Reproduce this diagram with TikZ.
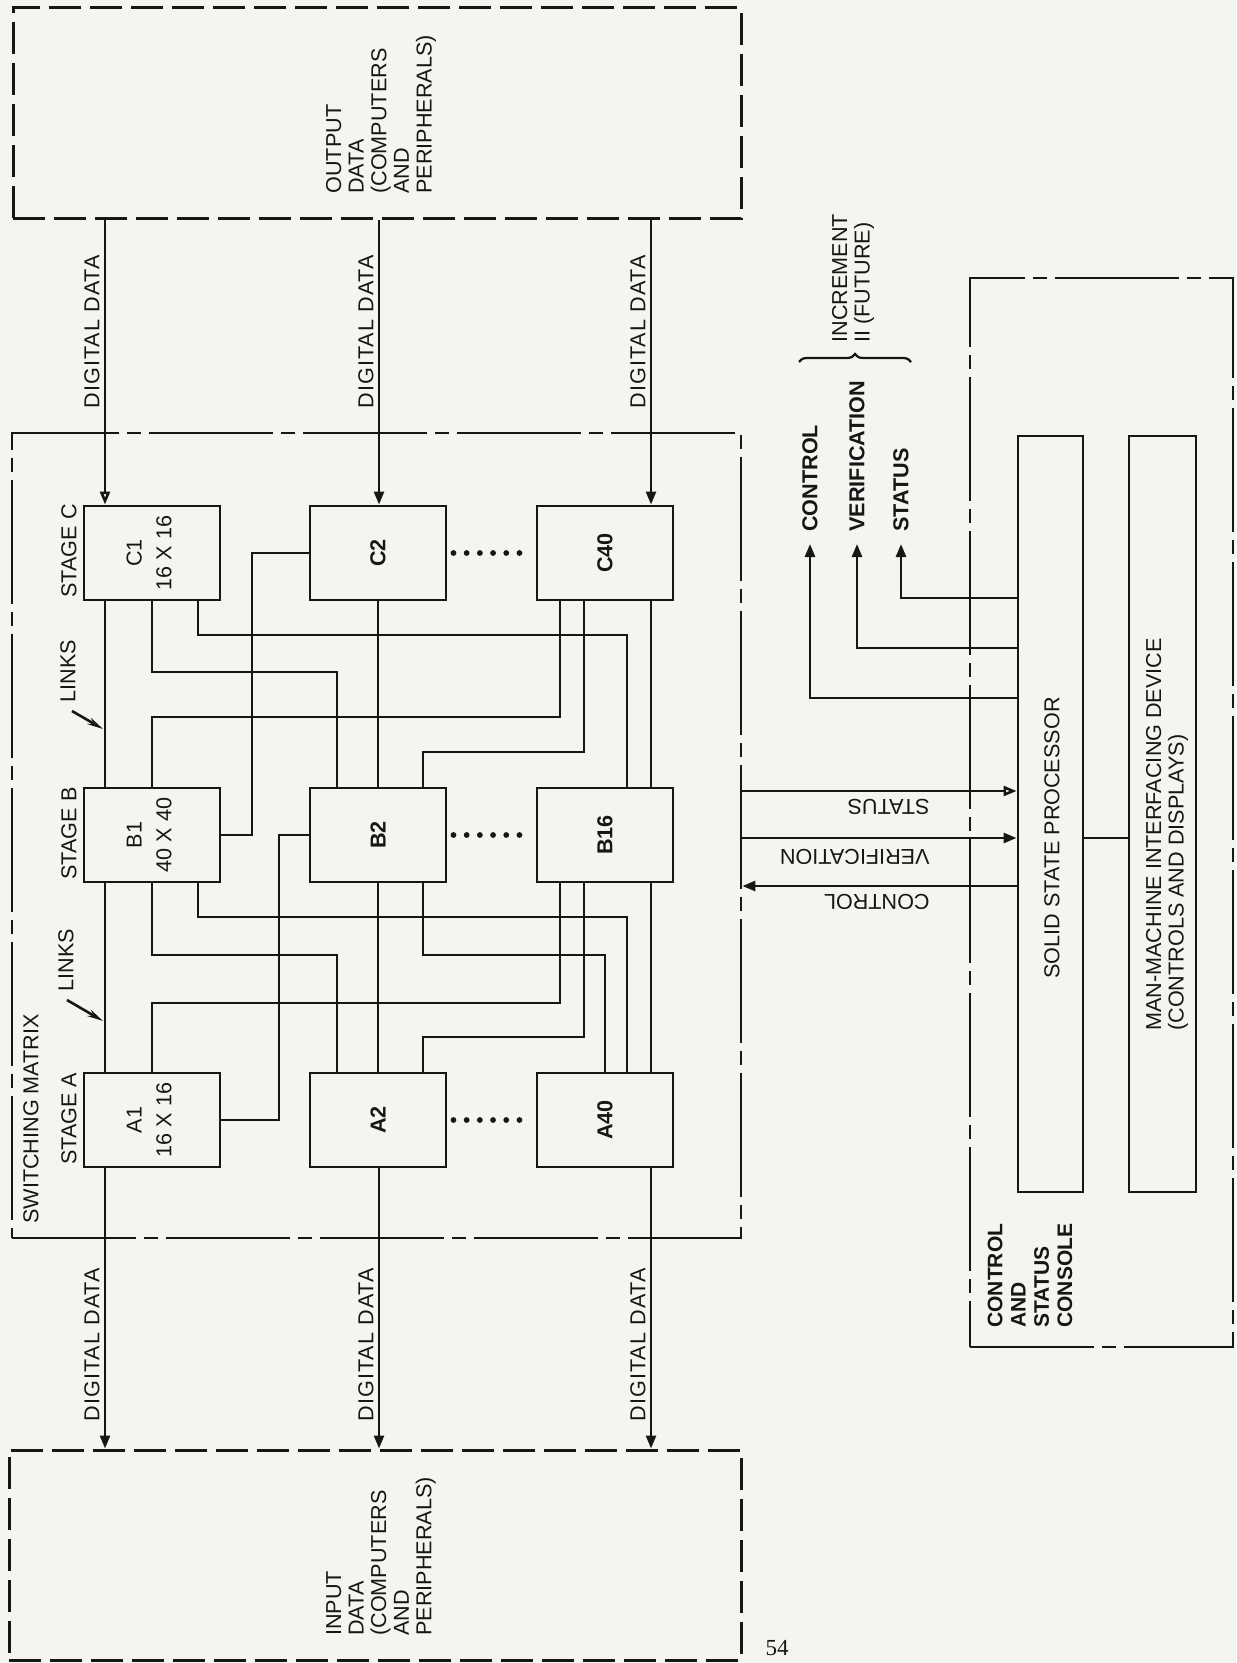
\documentclass[tikz,border=0pt]{standalone}
\usepackage{fontspec}
\setmainfont{Liberation Sans}
\newfontfamily\pagenumfont{Liberation Serif}
\usetikzlibrary{arrows.meta,decorations.pathreplacing}
\definecolor{paper}{RGB}{244,244,241}
\definecolor{inkc}{RGB}{22,22,22}
\begin{document}
\begin{tikzpicture}[x={(0.5pt,0)},y={(0,-0.5pt)},
  every node/.style={text=inkc,font=\fontsize{10.8}{11.3}\selectfont},
  blk/.style={draw=inkc,line width=1.45pt,minimum width=68pt,minimum height=47pt,inner sep=0pt},
  tall/.style={draw=inkc,line width=1.45pt,minimum height=378pt,inner sep=0pt},
  lnk/.style={draw=inkc,line width=1.3pt},
  arr/.style={lnk,-{Triangle[length=6.5pt,width=5pt]}},
  oarr/.style={lnk,-{Triangle[open,length=6.5pt,width=5pt]}},
  extbox/.style={draw=inkc,line width=1.5pt,dash pattern=on 16pt off 4.5pt,inner sep=0pt},
  frame/.style={draw=inkc,line width=1.4pt,dash pattern=on 62pt off 4pt on 7pt off 4pt,inner sep=0pt},
  vlab/.style={rotate=90,anchor=west,inner sep=0pt,align=left},
  flab/.style={rotate=180,anchor=west,inner sep=0pt},
  ddlab/.style={vlab,font=\fontsize{10.8}{11.3}\selectfont\addfontfeature{LetterSpace=5}},
  dotrow/.style={draw=inkc,line width=2.9pt,line cap=round,dash pattern=on 0pt off 6.6pt,shorten <=3pt,shorten >=2pt},
]
\fill[paper] (0,0) rectangle (1236,1663);
\useasboundingbox (0,0) rectangle (1236,1663);

% column / row helper coordinates
\coordinate (k105) at (105,0);
\coordinate (k198) at (198,0);
\coordinate (k252) at (252,0);
\coordinate (k279) at (279,0);
\coordinate (k337) at (337,0);
\coordinate (k379) at (379,0);
\coordinate (k423) at (423,0);
\coordinate (k560) at (560,0);
\coordinate (k584) at (584,0);
\coordinate (k627) at (627,0);
\coordinate (k651) at (651,0);
\coordinate (h598) at (0,598);
\coordinate (h648) at (0,648);
\coordinate (h698) at (0,698);
\coordinate (h791) at (0,791);
\coordinate (h838) at (0,838);
\coordinate (h886) at (0,886);

% outer boxes
\node[extbox,minimum width=364pt,minimum height=105.5pt] (OUT) at (377,113.5) {};
\node[extbox,minimum width=366pt,minimum height=105pt] (IN) at (375,1555) {};
\node[frame,minimum width=364.5pt,minimum height=402.5pt] (SM) at (376.5,835.5) {};
\node[frame,minimum width=131.5pt,minimum height=534.5pt] (CON) at (1101.5,812.5) {};

\node[vlab] at (381,194) {OUTPUT\\DATA\\(COMPUTERS\\AND\\PERIPHERALS)};
\node[vlab] at (381,1636) {INPUT\\DATA\\(COMPUTERS\\AND\\PERIPHERALS)};

% switching blocks
\node[blk] (C1) at (152,553) {\rotatebox{90}{\begin{tabular}{@{}c@{}}C1\\[3.5pt]16 X 16\end{tabular}}};
\node[blk] (C2) at (378,553) {\rotatebox{90}{\bfseries C2}};
\node[blk] (C40) at (605,553) {\rotatebox{90}{\bfseries C40}};
\node[blk] (B1) at (152,835) {\rotatebox{90}{\begin{tabular}{@{}c@{}}B1\\[3.5pt]40 X 40\end{tabular}}};
\node[blk] (B2) at (378,835) {\rotatebox{90}{\bfseries B2}};
\node[blk] (B16) at (605,835) {\rotatebox{90}{\bfseries B16}};
\node[blk] (A1) at (152,1120) {\rotatebox{90}{\begin{tabular}{@{}c@{}}A1\\[3.5pt]16 X 16\end{tabular}}};
\node[blk] (A2) at (378,1120) {\rotatebox{90}{\bfseries A2}};
\node[blk] (A40) at (605,1120) {\rotatebox{90}{\bfseries A40}};

\draw[dotrow] (C2.east) -- (C40.west);
\draw[dotrow] (B2.east) -- (B16.west);
\draw[dotrow] (A2.east) -- (A40.west);

\node[vlab] at (69,598) {STAGE C};
\node[vlab] at (69,880) {STAGE B};
\node[vlab] at (69,1165) {STAGE A};
\node[vlab] at (31,1224) {SWITCHING MATRIX};
\node[vlab] at (68,703) {LINKS};
\node[vlab] at (66,992) {LINKS};
\coordinate (L1a) at (72,711);
\coordinate (L1b) at (103,729);
\coordinate (L2a) at (67,1000);
\coordinate (L2b) at (103,1021);
\draw[lnk,-{Stealth[length=8pt,width=3.6pt]}] (L1a) -- (L1b);
\draw[lnk,-{Stealth[length=8pt,width=3.6pt]}] (L2a) -- (L2b);

% digital data in/out
\draw[oarr] (OUT.south -| k105) -- (C1.north -| k105);
\draw[arr] (OUT.south -| k379) -- (C2.north -| k379);
\draw[arr] (OUT.south -| k651) -- (C40.north -| k651);
\draw[arr] (A1.south -| k105) -- (IN.north -| k105);
\draw[arr] (A2.south -| k379) -- (IN.north -| k379);
\draw[arr] (A40.south -| k651) -- (IN.north -| k651);
\node[ddlab] at (92,409) {DIGITAL DATA};
\node[ddlab] at (366,409) {DIGITAL DATA};
\node[ddlab] at (638,409) {DIGITAL DATA};
\node[ddlab] at (92,1422) {DIGITAL DATA};
\node[ddlab] at (366,1422) {DIGITAL DATA};
\node[ddlab] at (638,1422) {DIGITAL DATA};

% links C -> B
\draw[lnk] (C1.south -| k105) -- (B1.north -| k105);
\draw[lnk] (C1.south) -- (152,672) -- (337,672) -- (B2.north -| k337);
\draw[lnk] (C1.south -| k198) -- (198,635) -- (627,635) -- (B16.north -| k627);
\draw[lnk] (B1.east) -- (B1.east -| k252) |- (C2.west);
\draw[lnk] (C2.south) -- (B2.north);
\draw[lnk] (C40.south -| k560) -- (560,717) -- (152,717) -- (B1.north);
\draw[lnk] (C40.south -| k584) -- (584,752) -- (423,752) -- (B2.north -| k423);
\draw[lnk] (C40.south -| k651) -- (B16.north -| k651);
% links B -> A
\draw[lnk] (B1.south -| k105) -- (A1.north -| k105);
\draw[lnk] (B1.south) -- (152,955) -- (337,955) -- (A2.north -| k337);
\draw[lnk] (B1.south -| k198) -- (198,917) -- (627,917) -- (A40.north -| k627);
\draw[lnk] (A1.east) -- (A1.east -| k279) |- (B2.west);
\draw[lnk] (B2.south) -- (A2.north);
\draw[lnk] (B2.south -| k423) -- (423,955) -- (605,955) -- (A40.north);
\draw[lnk] (B16.south -| k560) -- (560,1003) -- (152,1003) -- (A1.north);
\draw[lnk] (B16.south -| k584) -- (584,1037) -- (423,1037) -- (A2.north -| k423);
\draw[lnk] (B16.south -| k651) -- (A40.north -| k651);

% console
\node[tall,minimum width=32.5pt] (PROC) at (1050.5,814) {};
\node[tall,minimum width=33.5pt] (MMI) at (1162.5,814) {};
\node[rotate=90,inner sep=0pt] at (1052,838) {SOLID STATE PROCESSOR};
\node[vlab] at (1167,1031) {MAN-MACHINE INTERFACING DEVICE\\(CONTROLS AND DISPLAYS)};
\draw[lnk] (PROC.east |- h838) -- (MMI.west |- h838);
\node[vlab,font=\fontsize{10.5}{11.6}\selectfont\bfseries] at (1030,1328) {CONTROL\\AND\\STATUS\\CONSOLE};

\draw[oarr] (SM.east |- h791) -- (PROC.west |- h791);
\draw[arr] (SM.east |- h838) -- (PROC.west |- h838);
\draw[arr] (PROC.west |- h886) -- (SM.east |- h886);
\node[flab] at (930,807) {STATUS};
\node[flab] at (930,857) {VERIFICATION};
\node[flab] at (930,902) {CONTROL};

\coordinate (tC) at (810,544);
\coordinate (tV) at (857,544);
\coordinate (tS) at (901,544);
\draw[arr] (PROC.west |- h698) -| (tC);
\draw[arr] (PROC.west |- h648) -| (tV);
\draw[arr] (PROC.west |- h598) -| (tS);
\node[vlab] at (810,532) {\bfseries CONTROL};
\node[vlab] at (857,532) {\bfseries VERIFICATION};
\node[vlab] at (901,532) {\bfseries STATUS};
\coordinate (brL) at (799,362);
\coordinate (brR) at (911,362);
\draw[lnk,line width=1.1pt,decorate,decoration={brace,amplitude=4pt}] (brL) -- (brR);
\node[vlab] at (853,343) {INCREMENT\\II (FUTURE)};

\node[font=\pagenumfont\fontsize{11.5}{12}\selectfont,inner sep=0pt] at (777,1648) {54};
\end{tikzpicture}
\end{document}
